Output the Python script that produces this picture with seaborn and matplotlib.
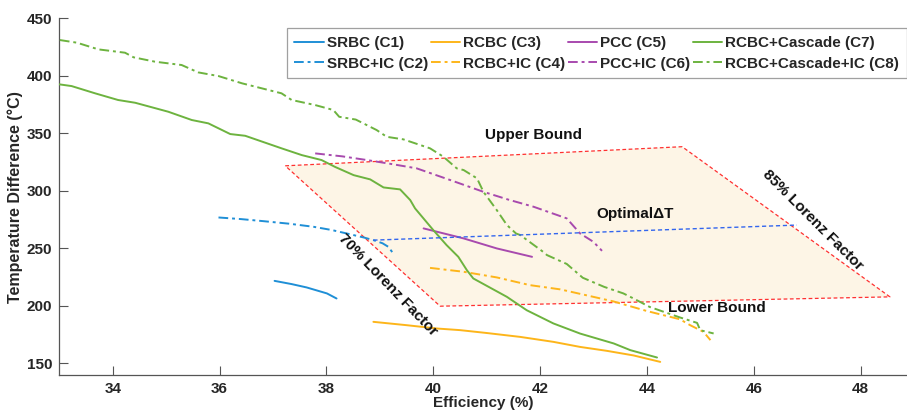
import matplotlib
matplotlib.use("Agg")
import matplotlib.pyplot as plt
import seaborn as sns
import pandas as pd

# Efficiency (%) vs temperature difference (deg C) for each cycle configuration
c1_x = [37.03, 37.35, 37.63, 38.01, 38.19]
c1_y = [221.8, 219.0, 216.1, 210.9, 206.5]

c2_x = [35.98, 36.40, 36.82, 37.30, 37.76, 38.10, 38.38, 38.70, 38.88, 39.05, 39.16, 39.25]
c2_y = [276.9, 275.5, 273.7, 271.5, 268.8, 266.0, 263.0, 259.5, 257.2, 254.5, 251.4, 245.7]

c3_x = [38.88, 39.50, 40.07, 40.50, 41.00, 41.63, 42.25, 42.75, 43.25, 43.75, 44.25]
c3_y = [186.2, 183.3, 180.4, 179.0, 176.5, 173.1, 168.8, 164.4, 161.0, 157.0, 151.4]

c4_x = [39.94, 40.57, 41.19, 41.81, 42.38, 43.00, 43.37, 44.00, 44.62, 44.81, 45.06, 45.19]
c4_y = [233.1, 229.7, 224.8, 218.1, 214.4, 207.9, 204.0, 195.6, 188.4, 183.3, 177.5, 170.3]

c5_x = [39.82, 40.57, 41.19, 41.85]
c5_y = [267.4, 258.7, 250.0, 242.7]

c6_x = [37.79, 38.30, 38.76, 39.20, 39.69, 40.32, 40.94, 41.40, 41.88, 42.50, 42.75, 43.00, 43.16]
c6_y = [332.6, 330.0, 326.8, 323.5, 319.6, 309.4, 299.2, 292.5, 286.2, 276.1, 263.0, 255.7, 247.9]

c7_x = [33.00, 33.23, 33.67, 34.10, 34.42, 35.04, 35.48, 35.79, 36.20, 36.48, 37.16, 37.54,
        37.91, 38.16, 38.51, 38.82, 39.07, 39.38, 39.57, 39.66, 40.00, 40.25, 40.47, 40.63,
        40.75, 41.38, 41.75, 42.25, 42.75, 43.38, 43.69, 44.19]
c7_y = [392.6, 391.1, 384.8, 379.0, 376.6, 368.8, 361.6, 358.7, 349.4, 347.9, 337.0, 331.1,
        326.8, 320.9, 313.7, 310.0, 303.0, 301.3, 292.0, 284.8, 266.0, 252.9, 242.7, 231.1,
        223.9, 207.9, 196.3, 184.8, 176.0, 167.4, 161.6, 155.2]

c8_x = [33.01, 33.33, 33.73, 34.23, 34.39, 34.79, 35.29, 35.60, 35.98, 36.42, 37.16, 37.35,
        37.79, 38.13, 38.24, 38.55, 38.94, 39.13, 39.44, 39.94, 40.19, 40.44, 40.57, 40.82,
        40.94, 41.19, 41.38, 41.55, 41.63, 42.03, 42.13, 42.50, 42.80, 43.20, 43.56, 43.75,
        44.05, 44.62, 44.94, 45.00, 45.25]
c8_y = [431.1, 428.8, 423.0, 420.1, 416.1, 412.3, 409.4, 403.0, 399.8, 393.5, 384.8, 379.0,
        374.6, 370.3, 364.4, 362.0, 352.9, 347.0, 344.8, 337.0, 329.7, 319.6, 318.1, 310.9,
        299.2, 283.3, 270.3, 263.0, 261.6, 248.0, 244.2, 236.5, 224.5, 216.6, 210.9, 206.5,
        199.2, 190.0, 185.3, 178.9, 176.1]

labels = ["SRBC (C1)", "SRBC+IC (C2)", "RCBC (C3)", "RCBC+IC (C4)",
          "PCC (C5)", "PCC+IC (C6)", "RCBC+Cascade (C7)", "RCBC+Cascade+IC (C8)"]

# Lorenz-factor region: upper-left, upper-right, right, lower-left corners
region_x = [37.23, 44.66, 48.55, 40.13]
region_y = [321.8, 338.4, 207.9, 199.8]

optimal_x = [38.88, 46.81]
optimal_y = [257.2, 270.3]

series = [(c1_x, c1_y), (c2_x, c2_y), (c3_x, c3_y), (c4_x, c4_y),
          (c5_x, c5_y), (c6_x, c6_y), (c7_x, c7_y), (c8_x, c8_y)]
colors = ["#1F8FD6", "#1F8FD6", "#FDB51A", "#FDB51A",
          "#A84AAE", "#A84AAE", "#6DB33F", "#6DB33F"]
dashdot = (0, (5, 2, 1.5, 2))
styles = ["-", dashdot, "-", dashdot, "-", dashdot, "-", dashdot]

sns.set_theme(style="ticks")
plt.rcParams["font.family"] = ["Liberation Sans", "DejaVu Sans"]
plt.rcParams["font.weight"] = "bold"

fig = plt.figure(figsize=(9.07, 4.15), dpi=100)
ax = fig.add_axes([0.0654, 0.0964, 0.9346, 0.8595])

# shaded optimal region with dashed red border
ax.fill(region_x, region_y, facecolor="#FDF5E6", edgecolor="none", zorder=1)
ax.plot(region_x + region_x[:1], region_y + region_y[:1], color="#FF3030",
        lw=0.9, linestyle=(0, (3, 2)), zorder=2)

for (xs, ys), lab, col, ls in zip(series, labels, colors, styles):
    df = pd.DataFrame({"Efficiency": xs, "dT": ys})
    sns.lineplot(data=df, x="Efficiency", y="dT", ax=ax, sort=False, estimator=None,
                 color=col, linestyle=ls, lw=1.4, label=lab, zorder=3)

opt = pd.DataFrame({"Efficiency": optimal_x, "dT": optimal_y})
sns.lineplot(data=opt, x="Efficiency", y="dT", ax=ax, sort=False, estimator=None,
             color="#3366EE", linestyle=(0, (3, 2)), lw=1.0, zorder=3, legend=False)

txt = dict(fontsize=11, fontweight="bold", color="#111111", ha="center", va="center", zorder=5)
ax.text(41.88, 348.5, "Upper Bound", **txt)
ax.text(43.78, 279.8, "Optimal\u0394T", **txt)
ax.text(45.31, 197.8, "Lower Bound", **txt)
ax.text(39.15, 218.7, "70% Lorenz Factor", rotation=-46, rotation_mode="anchor", **txt)
ax.text(47.11, 275.0, "85% Lorenz Factor", rotation=-45, rotation_mode="anchor", **txt)

ax.set_xlim(33, 48.87)
ax.set_ylim(140, 450)
ax.set_xticks([34, 36, 38, 40, 42, 44, 46, 48])
ax.set_yticks([150, 200, 250, 300, 350, 400, 450])
ax.set_xlabel("Efficiency (%)", fontsize=11, fontweight="bold", labelpad=0)
ax.set_ylabel("Temperature Difference (\u00b0C)", fontsize=11.5, fontweight="bold", labelpad=3)

sns.despine(ax=ax)
for side in ("left", "bottom"):
    ax.spines[side].set_color("#555555")
    ax.spines[side].set_linewidth(0.9)
ax.tick_params(direction="in", length=6.5, width=0.8, color="#555555",
               labelsize=11, labelcolor="#262626", pad=5)
for lbl in ax.get_xticklabels() + ax.get_yticklabels():
    lbl.set_fontweight("bold")

leg = ax.legend(loc="upper right", bbox_to_anchor=(1.0, 0.972), ncol=4,
                frameon=True, fancybox=False, borderaxespad=0, handlelength=1.9,
                handletextpad=0.2, columnspacing=0.2, borderpad=0.5, labelspacing=0.45,
                prop={"weight": "bold", "size": 11})
leg.get_frame().set_edgecolor("#888888")
leg.get_frame().set_linewidth(0.9)

fig.savefig("out.png", dpi=100)
